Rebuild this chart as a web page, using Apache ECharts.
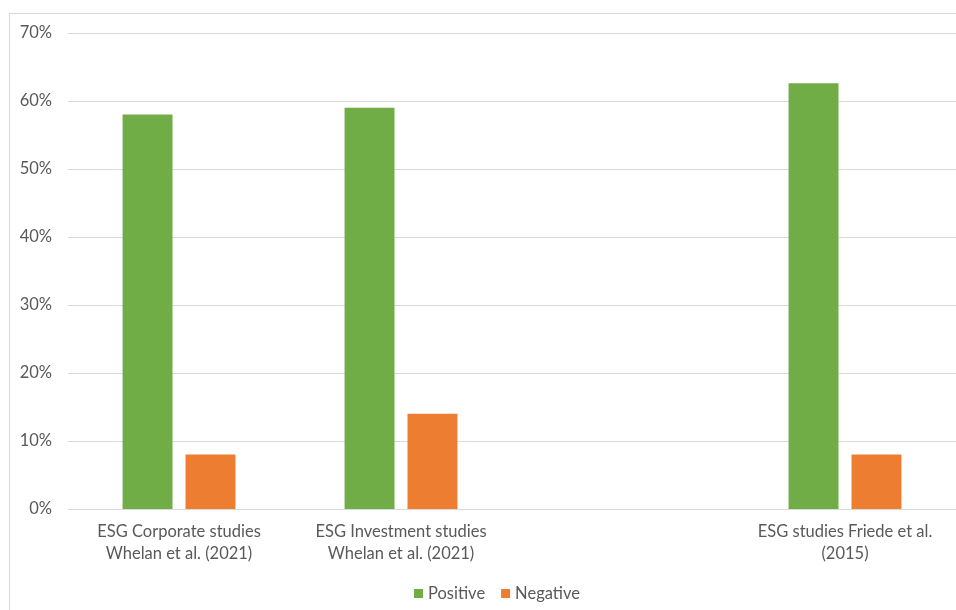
<!DOCTYPE html>
<html>
<head>
<meta charset="utf-8">
<script src="https://cdn.jsdelivr.net/npm/echarts@6/dist/echarts.min.js"></script>
<style>
  html, body { margin: 0; padding: 0; background: #fff; }
  #frame { position: absolute; left: 9px; top: 13px; width: 960px; height: 620px; border: 1px solid #d9d9d9; box-sizing: border-box; }
  #chart { position: absolute; left: 0; top: 0; width: 956px; height: 610px; }
</style>
</head>
<body>
<div id="frame"></div>
<div id="chart"></div>
<script>
// Share of studies finding a positive vs. negative ESG–performance relation
const categories = [
  'ESG Corporate studies\nWhelan et al. (2021)',
  'ESG Investment studies\nWhelan et al. (2021)',
  '',
  'ESG studies Friede et al.\n(2015)'
];
const positive = [58, 59, null, 62.6];
const negative = [8, 14, null, 8];
const yTicks = [0, 10, 20, 30, 40, 50, 60, 70];

const fontFamily = 'Lato, "Open Sans", sans-serif';
const textColor = '#595959';
const fontSize = 16.5;

const chart = echarts.init(document.getElementById('chart'), null, { renderer: 'canvas' });
chart.setOption({
  animation: false,
  textStyle: { fontFamily: fontFamily },
  grid: { left: 68, right: 0, top: 33, bottom: 101 },
  legend: {
    bottom: 3,
    left: 409,
    itemWidth: 9,
    itemHeight: 9,
    itemGap: 16,
    icon: 'rect',
    textStyle: { color: textColor, fontSize: fontSize, fontFamily: fontFamily },
    data: ['Positive', 'Negative']
  },
  xAxis: {
    type: 'category',
    data: categories,
    axisLine: { lineStyle: { color: '#d9d9d9', width: 1 } },
    axisTick: { show: false },
    axisLabel: {
      color: textColor,
      fontSize: fontSize,
      lineHeight: 22,
      margin: 12,
      interval: 0,
      fontFamily: fontFamily
    }
  },
  yAxis: {
    type: 'value',
    min: yTicks[0],
    max: yTicks[yTicks.length - 1],
    interval: 10,
    axisLine: { show: false },
    axisTick: { show: false },
    splitLine: { lineStyle: { color: '#d9d9d9', width: 1 } },
    axisLabel: {
      color: textColor,
      fontSize: fontSize,
      margin: 16,
      fontFamily: fontFamily,
      formatter: v => v + '%'
    }
  },
  series: [
    {
      name: 'Positive',
      type: 'bar',
      data: positive,
      barWidth: '22.5%',
      barGap: '26%',
      itemStyle: { color: '#70ad47' }
    },
    {
      name: 'Negative',
      type: 'bar',
      data: negative,
      barWidth: '22.5%',
      itemStyle: { color: '#ed7d31' }
    }
  ]
});
</script>
</body>
</html>
